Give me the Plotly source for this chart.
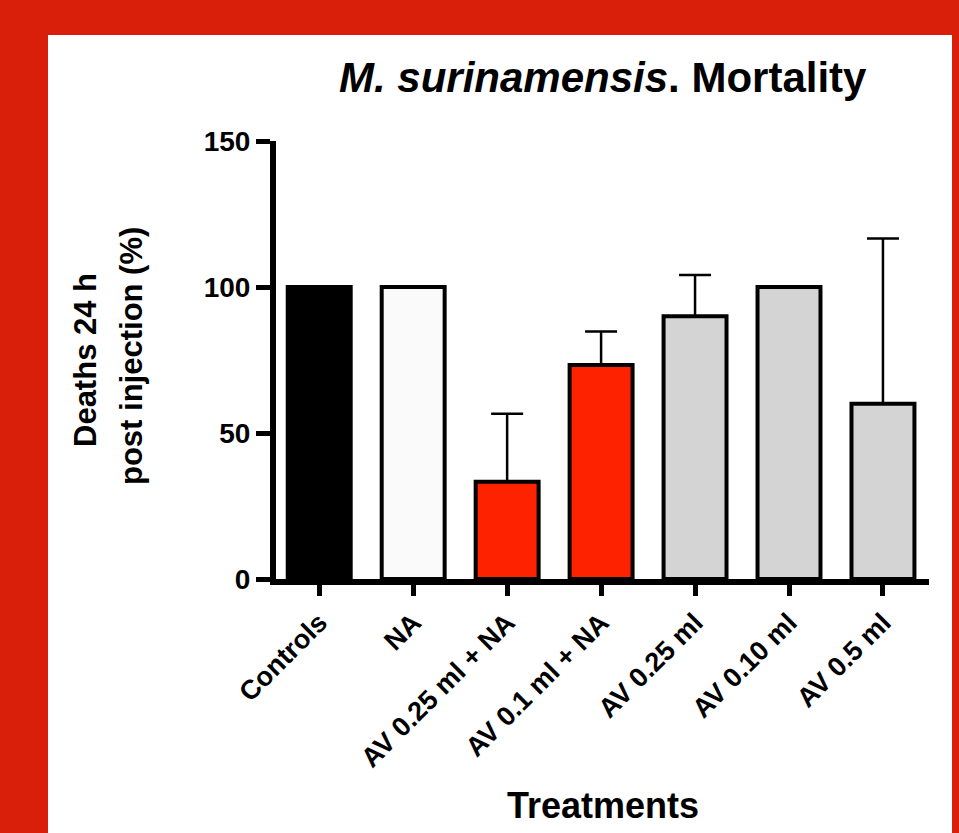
import plotly.graph_objects as go

categories = ["Controls", "NA", "AV 0.25 ml + NA", "AV 0.1 ml + NA",
              "AV 0.25 ml", "AV 0.10 ml", "AV 0.5 ml"]
values = [100, 100, 33.3, 73.3, 90, 100, 60]
err_up = [0, 0, 23.3, 11.5, 14.1, 0, 56.6]
colors = ["#000000", "#FAFAFA", "#FF2200", "#FF2200", "#D4D4D4", "#D4D4D4", "#D4D4D4"]
y_ticks = [0, 50, 100, 150]

FONT = "Liberation Sans"
W, H = 959, 833
L, R, T, B = 276, 30, 141, 254
pw = W - L - R
ph = H - T - B

def px(x):
    return (x - L) / pw

def py(y):
    return (H - B - y) / ph

fig = go.Figure()
fig.add_trace(go.Bar(
    x=list(range(len(categories))),
    y=values,
    width=0.67,
    marker=dict(color=colors, line=dict(color="black", width=4)),
    error_y=dict(type="data", array=err_up, arrayminus=[0] * len(err_up),
                 symmetric=False, color="black", thickness=2.5, width=16,
                 visible=True),
    showlegend=False,
))

fig.update_layout(
    width=W, height=H,
    margin=dict(l=L, r=R, t=T, b=B, autoexpand=False),
    paper_bgcolor="#D91F0A",
    plot_bgcolor="rgba(0,0,0,0)",
    font=dict(family=FONT, color="black"),
    shapes=[dict(type="rect", xref="paper", yref="paper",
                 x0=px(48), x1=px(952), y0=-0.7, y1=py(35),
                 fillcolor="white", line=dict(width=0), layer="below")],
    xaxis=dict(
        range=[-0.46, 6.49],
        tickmode="array",
        tickvals=list(range(len(categories))),
        ticktext=categories,
        tickangle=-45,
        tickfont=dict(family=FONT, size=27, color="black", weight="bold"),
        showline=True, linecolor="black", linewidth=6,
        ticks="outside", ticklen=11, tickwidth=5, tickcolor="black",
        showgrid=False, zeroline=False, fixedrange=True,
    ),
    yaxis=dict(
        range=[0, 150],
        tickmode="array",
        tickvals=y_ticks,
        ticktext=[str(v) for v in y_ticks],
        tickfont=dict(family=FONT, size=28, color="black", weight="bold"),
        showline=True, linecolor="black", linewidth=6,
        ticks="outside", ticklen=14, tickwidth=5, tickcolor="black",
        showgrid=False, zeroline=False, fixedrange=True,
    ),
    annotations=[
        dict(text="<i>M. surinamensis</i>. Mortality", xref="paper", yref="paper",
             x=0.5, y=py(77), xanchor="center", yanchor="middle", showarrow=False,
             font=dict(family=FONT, size=42, color="black", weight="bold")),
        dict(text="Deaths 24 h", xref="paper", yref="paper",
             x=px(85), y=py(360), xanchor="center", yanchor="middle", showarrow=False,
             textangle=-90,
             font=dict(family=FONT, size=31, color="black", weight="bold")),
        dict(text="post injection (%)", xref="paper", yref="paper",
             x=px(131), y=py(356), xanchor="center", yanchor="middle", showarrow=False,
             textangle=-90,
             font=dict(family=FONT, size=31, color="black", weight="bold")),
        dict(text="Treatments", xref="paper", yref="paper",
             x=0.5, y=py(805), xanchor="center", yanchor="middle", showarrow=False,
             font=dict(family=FONT, size=36, color="black", weight="bold")),
    ],
)

fig.write_html("out.html", config={"displayModeBar": False},
               post_script="document.body.style.margin='0px';")
